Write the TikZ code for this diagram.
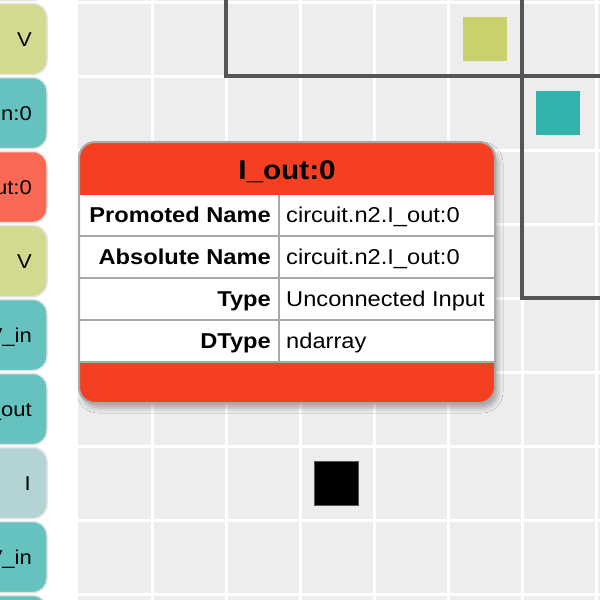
\documentclass[tikz,border=0pt]{standalone}
\usepackage{fontspec}
\setmainfont{Liberation Sans}
\newfontfamily\tipfont[FakeStretch=1.1]{Liberation Sans}
\usetikzlibrary{shadows.blur}

\definecolor{gridbg}{HTML}{EDEDED}
\definecolor{wallline}{HTML}{555555}
\definecolor{pinedge}{HTML}{E4E4E4}
\definecolor{pinyellow}{HTML}{D3DA8F}
\definecolor{pinteal}{HTML}{66C2BF}
\definecolor{pinred}{HTML}{FB6854}
\definecolor{pingray}{HTML}{B4D3D4}
\definecolor{sqyellow}{HTML}{C9D06D}
\definecolor{sqteal}{HTML}{33B1AD}
\definecolor{tipred}{HTML}{F43F22}
\definecolor{tipedge}{HTML}{A8A8A8}

\begin{document}
\begin{tikzpicture}[x=1pt,y=-1pt,
  pin/.style={draw=pinedge,line width=1.5pt,rounded corners=14pt},
  pinlabel/.style={anchor=base east,inner sep=0pt,font=\tipfont\fontsize{20}{24}\selectfont},
  cellsq/.style={minimum size=44pt,inner sep=0pt,line width=0.8pt},
  tipkey/.style={anchor=base east,inner sep=0pt,font=\tipfont\bfseries\fontsize{21.5}{26}\selectfont},
  tipval/.style={anchor=base west,inner sep=0pt,font=\tipfont\fontsize{21.5}{26}\selectfont},
  tipline/.style={draw=tipedge,line width=2pt}]
  \useasboundingbox (0,0) rectangle (600,600);
  \clip (0,0) rectangle (600,600);
  % grid
  \fill[gridbg] (78,0) rectangle (600,600);
  \draw[white,line width=3pt]
    (152,0) -- (152,600) (226,0) -- (226,600) (300,0) -- (300,600)
    (374,0) -- (374,600) (448,0) -- (448,600) (522,0) -- (522,600)
    (596,0) -- (596,600)
    (78,2) -- (600,2) (78,76) -- (600,76) (78,150) -- (600,150)
    (78,224) -- (600,224) (78,298) -- (600,298) (78,372) -- (600,372)
    (78,446) -- (600,446) (78,520) -- (600,520) (78,594) -- (600,594);
  \draw[wallline,line width=3.5pt] (226,0) -- (226,76) -- (600,76);
  \draw[wallline,line width=3.5pt] (522,0) -- (522,298) -- (600,298);
  % cells
  \node[cellsq,fill=sqyellow] (C-1) at (485,39) {};
  \node[cellsq,fill=sqteal] (C-2) at (558,113) {};
  \node[cellsq,fill=black,draw=wallline] (C-3) at (336,483) {};
  % pins
  \path[pin,fill=pinteal] (-20,-70) rectangle (47,0.5);
  \path[pin,fill=pinyellow] (-20,3.5) rectangle (47,74.5);
  \path[pin,fill=pinteal] (-20,77.5) rectangle (47,148.5);
  \path[pin,fill=pinred] (-20,151.5) rectangle (47,222.5);
  \path[pin,fill=pinyellow] (-20,225.5) rectangle (47,296.5);
  \path[pin,fill=pinteal] (-20,299.5) rectangle (47,370.5);
  \path[pin,fill=pinteal] (-20,373.5) rectangle (47,444.5);
  \path[pin,fill=pingray] (-20,447.5) rectangle (47,518.5);
  \path[pin,fill=pinteal] (-20,521.5) rectangle (47,592.5);
  \path[pin,fill=pinteal] (-20,595.5) rectangle (47,666.5);
  \node[pinlabel] (P-1) at (32,46.7) {V};
  \node[pinlabel] (P-2) at (32,120.7) {V\_in:0};
  \node[pinlabel] (P-3) at (32,194.7) {I\_out:0};
  \node[pinlabel] (P-4) at (32,268.7) {V};
  \node[pinlabel] (P-5) at (32,342.7) {V\_in};
  \node[pinlabel] (P-6) at (32,416.7) {I\_out};
  \node[pinlabel] (P-7) at (31,490.7) {I};
  \node[pinlabel] (P-8) at (32,564.7) {V\_in};
  % tooltip
  \fill[tipred,rounded corners=16pt,
    blur shadow={shadow xshift=3pt,shadow yshift=-5pt,shadow blur radius=5pt,shadow opacity=30}]
    (79,142) rectangle (495,403);
  \fill[white] (80,195) rectangle (494,362);
  \draw[tipline] (80,236) -- (494,236) (80,278) -- (494,278)
    (80,320) -- (494,320) (80,362) -- (494,362) (279,195) -- (279,362);
  \draw[tipline,rounded corners=16pt] (79,142) rectangle (495,403);
  \node[anchor=base,inner sep=0pt,font=\tipfont\bfseries\fontsize{27}{32}\selectfont]
    (T-0) at (287,179.3) {I\_out:0};
  \node[tipkey] (K-1) at (271,222.5) {Promoted Name};
  \node[tipval] (V-1) at (286,222.5) {circuit.n2.I\_out:0};
  \node[tipkey] (K-2) at (271,264.5) {Absolute Name};
  \node[tipval] (V-2) at (286,264.5) {circuit.n2.I\_out:0};
  \node[tipkey] (K-3) at (271,306.5) {Type};
  \node[tipval] (V-3) at (286,306.5) {Unconnected Input};
  \node[tipkey] (K-4) at (271,348.5) {DType};
  \node[tipval] (V-4) at (286,348.5) {ndarray};
\end{tikzpicture}
\end{document}
